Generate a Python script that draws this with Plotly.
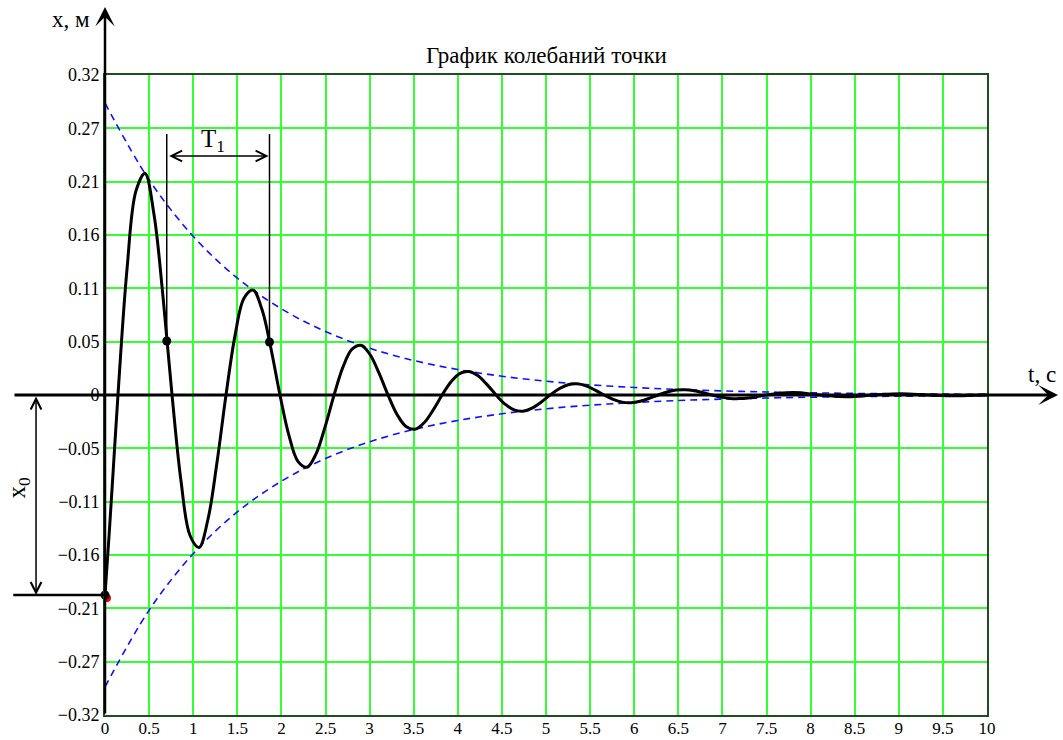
import plotly.graph_objects as go

# ---------------- data ----------------
t_curve = [0.0, 0.045, 0.096, 0.147, 0.249, 0.351, 0.453, 0.556, 0.658, 0.760, 0.862, 0.964,
           1.066, 1.168, 1.270, 1.372, 1.474, 1.576, 1.678, 1.780, 1.882, 1.984,
           2.087, 2.189, 2.291, 2.393, 2.495, 2.597, 2.699, 2.801, 2.903, 3.005,
           3.107, 3.209, 3.311, 3.413, 3.515, 3.618, 3.720, 3.822, 3.924, 4.026,
           4.128, 4.230, 4.332, 4.434, 4.536, 4.638, 4.740, 4.842, 4.944, 5.047,
           5.149, 5.251, 5.353, 5.455, 5.557, 5.659, 5.761, 5.863, 5.965, 6.067,
           6.169, 6.271, 6.373, 6.475, 6.578, 6.680, 6.782, 6.884, 6.986, 7.088,
           7.190, 7.292, 7.394, 7.496, 7.802, 8.109, 8.415, 8.721, 9.027, 9.334,
           9.640, 9.946, 10.0]
x_curve = [-0.200, -0.142, -0.071, 0.0, 0.1254, 0.2041, 0.2215, 0.1802, 0.0978, 0.0, -0.0863, -0.1405,
           -0.1524, -0.1240, -0.0673, 0.0, 0.0594, 0.0967, 0.1049, 0.0854, 0.0463, 0.0,
           -0.0409, -0.0666, -0.0722, -0.0588, -0.0319, 0.0, 0.0281, 0.0458, 0.0497, 0.0404,
           0.0219, 0.0, -0.0194, -0.0315, -0.0342, -0.0278, -0.0151, 0.0, 0.0133, 0.0217,
           0.0235, 0.0192, 0.0104, 0.0, -0.0092, -0.0149, -0.0162, -0.0132, -0.0072, 0.0,
           0.0063, 0.0103, 0.0112, 0.0091, 0.0049, 0.0, -0.0043, -0.0071, -0.0077, -0.0062,
           -0.0034, 0.0, 0.0030, 0.0049, 0.0053, 0.0043, 0.0023, 0.0, -0.0021, -0.0034,
           -0.0036, -0.0030, -0.0016, 0.0, 0.0025, 0.0, -0.0017, 0.0, 0.0012, 0.0,
           -0.0008, 0.0, 0.0]

t_env = [0, 0.5, 1, 1.5, 2, 2.5, 3, 3.5, 4, 4.5, 5, 5.5, 6, 6.5, 7, 7.5, 8, 8.5, 9, 9.5, 10]
x_env_upper = [0.292, 0.2152, 0.1587, 0.1169, 0.0862, 0.0635, 0.0468, 0.0345, 0.0255, 0.0188,
               0.0138, 0.0102, 0.0075, 0.0055, 0.0041, 0.0030, 0.0022, 0.0016, 0.0012, 0.0009, 0.0007]
x_env_lower = [-v for v in x_env_upper]

t_T1 = [0.70, 1.865]          # points marking the period T1
x_T1 = [0.054, 0.053]
T1_top = 0.261
T1_arrow_y = 0.239

x0_value = -0.2               # initial displacement

x_ticks = [0, 0.5, 1, 1.5, 2, 2.5, 3, 3.5, 4, 4.5, 5, 5.5, 6, 6.5, 7, 7.5, 8, 8.5, 9, 9.5, 10]
x_ticktext = ["0", "0.5", "1", "1.5", "2", "2.5", "3", "3.5", "4", "4.5", "5", "5.5",
              "6", "6.5", "7", "7.5", "8", "8.5", "9", "9.5", "10"]
y_ticks = [-0.32, -0.26667, -0.21333, -0.16, -0.10667, -0.05333, 0,
           0.05333, 0.10667, 0.16, 0.21333, 0.26667, 0.32]
y_ticktext = ["\u22120.32", "\u22120.27", "\u22120.21", "\u22120.16", "\u22120.11", "\u22120.05", "0",
              "0.05", "0.11", "0.16", "0.21", "0.27", "0.32"]

title_text = "График колебаний точки"

# ---------------- figure ----------------
FONT = "Liberation Serif, Times New Roman, serif"
GRID = "#33ff33"
FRAME = "#1f4f1f"
Y0, Y1 = -0.32, 0.32
PLOT_TOP, PLOT_H = 75, 640


def ypaper(v):
    return (v - Y0) / (Y1 - Y0)


def ypix(p):
    return (PLOT_TOP + PLOT_H - p) / PLOT_H


fig = go.Figure()

fig.add_trace(go.Scatter(x=t_env, y=x_env_upper, mode="lines", line=dict(color="#1010ff", width=1.6, dash="7px,5px", shape="spline"), hoverinfo="skip"))
fig.add_trace(go.Scatter(x=t_env, y=x_env_lower, mode="lines", line=dict(color="#1010ff", width=1.6, dash="7px,5px", shape="spline"), hoverinfo="skip"))
fig.add_trace(go.Scatter(x=t_curve, y=x_curve, mode="lines", line=dict(color="black", width=3, shape="spline")))

fig.add_trace(go.Scatter(x=t_T1, y=x_T1, mode="markers", marker=dict(color="black", size=9)))
fig.add_trace(go.Scatter(x=[0.022], y=[x0_value - 0.003], mode="markers", marker=dict(color="#e00000", size=8), cliponaxis=False))
fig.add_trace(go.Scatter(x=[0], y=[x0_value], mode="markers", marker=dict(color="black", size=9), cliponaxis=False))

shapes = []
# T1 extension lines
for tv, xv in zip(t_T1, x_T1):
    shapes.append(dict(type="line", xref="x", yref="y", x0=tv, x1=tv, y0=xv, y1=T1_top,
                       line=dict(color="black", width=1.5)))
# x0 extension line at y = x0 (outside plot, to the left)
shapes.append(dict(type="line", xref="paper", yref="paper", x0=-0.104, x1=0, y0=ypaper(x0_value), y1=ypaper(x0_value),
                   line=dict(color="black", width=2.5)))

annotations = []
# horizontal (t) axis with arrow
annotations.append(dict(xref="paper", yref="paper", x=1.0805, y=ypaper(0), ax=-1045, ay=0,
                        axref="pixel", ayref="pixel", text="", showarrow=True,
                        arrowhead=3, arrowsize=1.1, arrowwidth=3, arrowcolor="black"))
# vertical (x) axis with arrow
annotations.append(dict(xref="paper", yref="paper", x=0, y=ypix(7), ax=0, ay=708,
                        text="", showarrow=True, arrowhead=3, arrowsize=1.3, arrowwidth=2.5, arrowcolor="black"))
# x0 dimension arrow
annotations.append(dict(xref="paper", yref="paper", x=-0.0782, y=ypaper(x0_value), ax=0, ay=-200,
                        text="", showarrow=True, arrowhead=5, startarrowhead=5, arrowside="end+start",
                        arrowsize=1.4, arrowwidth=1.5, arrowcolor="black"))
# T1 dimension arrow
annotations.append(dict(xref="x", yref="y", x=t_T1[1] - 0.01, y=T1_arrow_y, axref="x", ayref="y",
                        ax=t_T1[0] + 0.01, ay=T1_arrow_y, text="", showarrow=True,
                        arrowhead=5, startarrowhead=5, arrowside="end+start",
                        arrowsize=1.4, arrowwidth=1.5, arrowcolor="black"))
# texts
annotations.append(dict(xref="x", yref="y", x=1.2245, y=0.255, text="T<sub>1</sub>", showarrow=False,
                        xanchor="center", yanchor="middle",
                        font=dict(family=FONT, size=25, color="black")))
annotations.append(dict(xref="paper", yref="paper", x=-0.0992, y=ypix(488), text="x<sub>0</sub>",
                        textangle=-90, showarrow=False, xanchor="center", yanchor="middle",
                        font=dict(family=FONT, size=25, color="black")))
annotations.append(dict(xref="paper", yref="paper", x=-0.0385, y=ypix(19), text="x, м", showarrow=False,
                        xanchor="center", yanchor="middle",
                        font=dict(family=FONT, size=23, color="black")))
annotations.append(dict(xref="paper", yref="paper", x=1.0624, y=ypix(374), text="t, с", showarrow=False,
                        xanchor="center", yanchor="middle",
                        font=dict(family=FONT, size=23, color="black")))
annotations.append(dict(xref="paper", yref="paper", x=0.5, y=ypix(55), text=title_text, showarrow=False,
                        xanchor="center", yanchor="middle",
                        font=dict(family=FONT, size=23, color="black")))

fig.update_layout(
    width=1063, height=740,
    margin=dict(l=105, r=76, t=PLOT_TOP, b=25, autoexpand=False),
    paper_bgcolor="white", plot_bgcolor="white",
    showlegend=False,
    shapes=shapes, annotations=annotations,
    xaxis=dict(range=[0, 10], tickvals=x_ticks, ticktext=x_ticktext, showgrid=True, automargin=False,
               gridcolor=GRID, gridwidth=2, zeroline=False, showline=True, linecolor=FRAME,
               linewidth=2, mirror=True, ticks="", ticklabelstandoff=-3,
               tickfont=dict(family=FONT, size=17, color="black")),
    yaxis=dict(range=[Y0, Y1], tickvals=y_ticks, ticktext=y_ticktext, showgrid=True, automargin=False,
               gridcolor=GRID, gridwidth=2, zeroline=False, showline=True, linecolor=FRAME,
               linewidth=2, mirror=True, ticks="", tickfont=dict(family=FONT, size=18, color="black")),
)

fig.write_html("out.html", config={"displayModeBar": False},
               post_script="document.body.style.margin='0';document.body.style.overflow='hidden';")
